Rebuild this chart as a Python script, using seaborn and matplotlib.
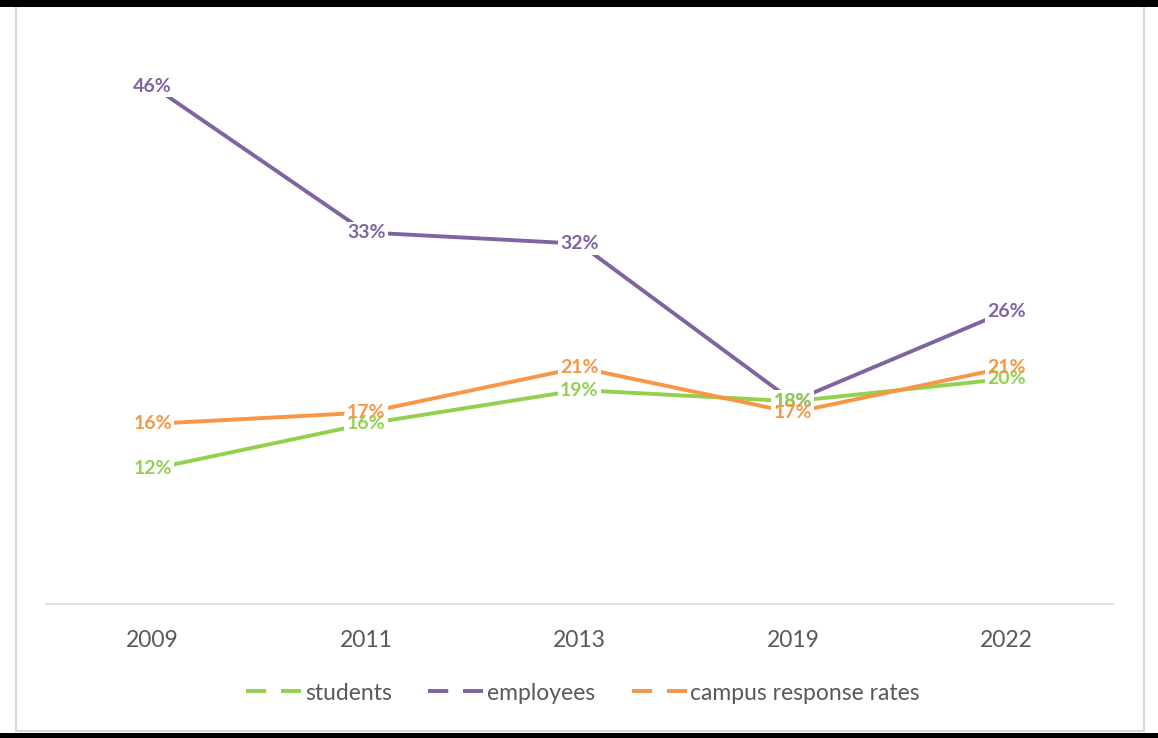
import matplotlib
matplotlib.use("Agg")
import matplotlib.pyplot as plt
from matplotlib.lines import Line2D
from matplotlib.patches import Rectangle
import seaborn as sns
import pandas as pd

# Survey response rates by year
years = ["2009", "2011", "2013", "2019", "2022"]
students = [12, 16, 19, 18, 20]
employees = [46, 33, 32, 18, 26]
campus = [16, 17, 21, 17, 21]

series_names = ["students", "employees", "campus response rates"]
colors = {"students": "#92D050", "employees": "#8064A2",
          "campus response rates": "#F79646"}

df = pd.DataFrame({
    "year": years * 3,
    "rate": students + employees + campus,
    "series": [s for s in series_names for _ in years],
})

sns.set_theme(style="white")
plt.rcParams["font.family"] = ["Lato", "DejaVu Sans"]

W, H = 1158, 738
fig = plt.figure(figsize=(W / 100, H / 100), dpi=100)
ax = fig.add_axes([46 / W, (H - 604) / H, (1113 - 46) / W, (604 - 41) / H])

LW = 2.8
sns.lineplot(data=df, x="year", y="rate", hue="series", palette=colors,
             hue_order=series_names, linewidth=LW, ax=ax, legend=False,
             sort=False)
for ln in ax.lines:
    ln.set_solid_capstyle("round")
    ln.set_zorder(2)

ax.set_xlim(-0.5, len(years) - 0.5)
ax.set_ylim(0, 50)
ax.set_xlabel("")
ax.set_ylabel("")
ax.set_yticks([])
ax.set_xticks(range(len(years)))
ax.set_xticklabels(years, fontsize=16.5, color="#595959")
ax.tick_params(axis="x", length=0, pad=19)
for side in ["top", "left", "right"]:
    ax.spines[side].set_visible(False)
ax.spines["bottom"].set_color("#D9D9D9")
ax.spines["bottom"].set_linewidth(1.2)
ax.set_facecolor("none")

# Value labels: a white knockout behind each label breaks the lines,
# then the coloured text goes on top so overlapping labels stay visible.
# Employees first so the student and campus labels sit above it.
label_data = [("employees", employees), ("students", students),
              ("campus response rates", campus)]
for name, vals in label_data:
    for i, v in enumerate(vals):
        ax.text(i, v, f"{v}%", ha="center", va="center", fontsize=14,
                fontweight="bold", color="none", zorder=3,
                bbox=dict(boxstyle="square,pad=0.12", fc="white", ec="none"))
for z, (name, vals) in enumerate(label_data):
    for i, v in enumerate(vals):
        ax.text(i, v, f"{v}%", ha="center", va="center", fontsize=14,
                fontweight="bold", color=colors[name], zorder=4 + z)

handles = [Line2D([0], [0], color=colors[n], lw=LW,
                  linestyle=(0, (5.2, 3.8)))
           for n in series_names]
fig.legend(handles, series_names, loc="center",
           bbox_to_anchor=(583 / W, (H - 693) / H), ncol=3, frameon=False,
           fontsize=16.5, labelcolor="#595959", handlelength=2.4,
           handletextpad=0.15, columnspacing=1.6)

# Outer frame: thin grey border with heavy black bars top and bottom
fig.add_artist(Rectangle((16 / W, (H - 731) / H), (1144 - 16) / W, (731 - 6) / H,
                         transform=fig.transFigure, fill=False,
                         ec="#D9D9D9", lw=1.6))
fig.add_artist(Rectangle((0, (H - 7) / H), 1, 7 / H, transform=fig.transFigure,
                         fc="black", ec="none"))
fig.add_artist(Rectangle((0, 0), 1, 5 / H, transform=fig.transFigure,
                         fc="black", ec="none"))

fig.savefig("out.png", dpi=100, facecolor="white")
